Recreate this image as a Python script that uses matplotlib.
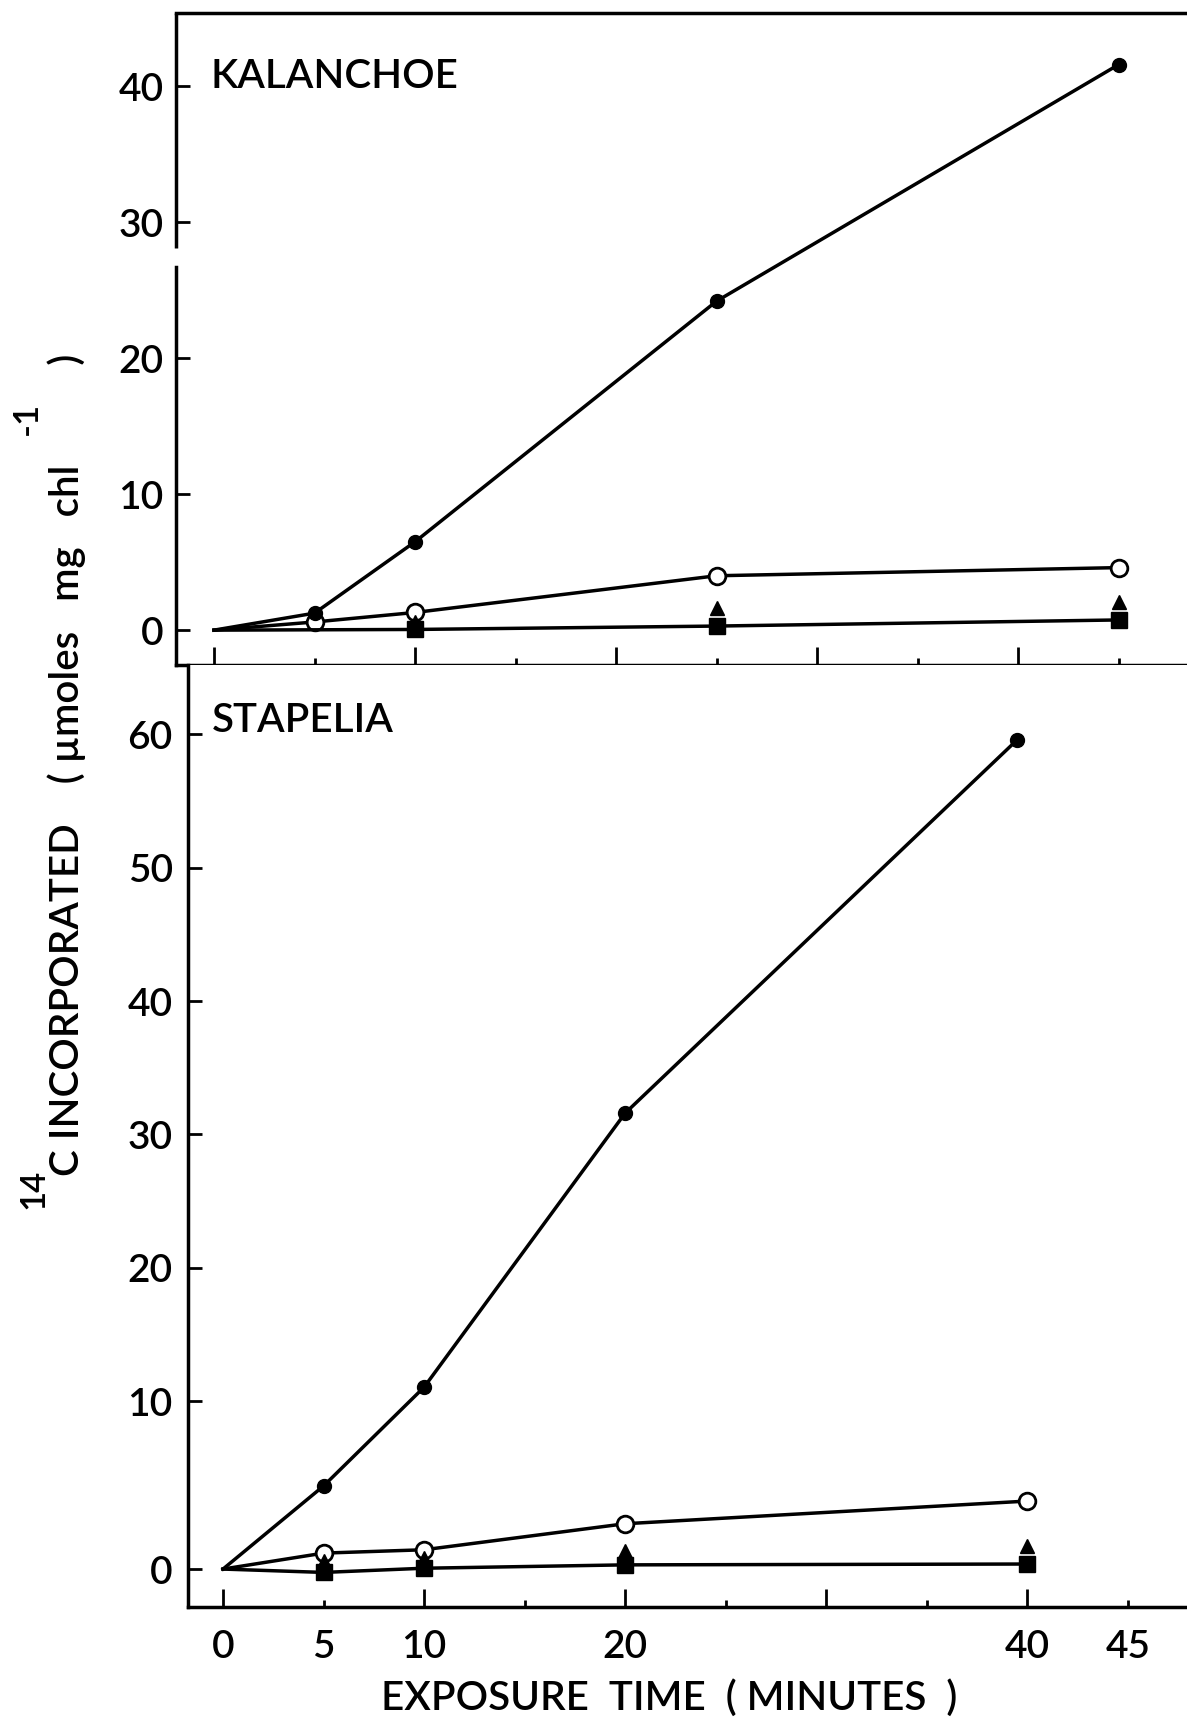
import matplotlib.pyplot as plt
import numpy as np
from matplotlib.ticker import FixedLocator, FixedFormatter, NullFormatter

plt.rcParams['font.family'] = ['Lato', 'DejaVu Sans']
plt.rcParams['font.weight'] = 'semibold'

# KALANCHOE (upper panel)
kal_t = [0, 5, 10, 25, 45]
kal_filled = [0, 1.25, 6.5, 24.2, 41.6]
kal_open = [0, 0.6, 1.3, 4.0, 4.6]
kal_sq_t = [0, 10, 25, 45]
kal_sq = [0, 0.05, 0.3, 0.75]
kal_tri_t = [10, 25, 45]
kal_tri = [0.6, 1.6, 2.05]

# STAPELIA (lower panel)
sta_t = [0, 5, 10, 20, 40]
sta_filled_t = [0, 5, 10, 20, 39.5]
sta_filled = [0, 4.95, 11.05, 31.6, 59.6]
sta_open = [0, 0.95, 1.15, 2.7, 4.05]
sta_sq = [0, -0.2, 0.05, 0.25, 0.3]
sta_tri_t = [5, 10, 20, 40]
sta_tri = [0.5, 0.65, 1.1, 1.4]

x_major = [0, 10, 20, 30, 40]
x_major_lab = ['0', '10', '20', '', '40']
x_minor = [5, 15, 25, 35, 45]
x_minor_lab = ['5', '', '', '', '45']

LW = 2.5
FS = 28

# lower panel y axis is stretched below 10 in the original drawing
K = 1.259


def fwd(y):
    y = np.asarray(y, dtype=float)
    return np.where(y < 10, y * K, y + 10 * (K - 1))


def inv(t):
    t = np.asarray(t, dtype=float)
    return np.where(t < 10 * K, t / K, t - 10 * (K - 1))


def draw_series(ax, t, filled_t, filled, open_, sq_t, sq, tri_t, tri):
    ax.plot(t, open_, color='k', lw=LW, marker='o', ms=12, mfc='white',
            mec='k', mew=2.0, markevery=list(range(1, len(t))), zorder=3)
    ax.plot(sq_t, sq, color='k', lw=LW, marker='s', ms=11,
            markevery=list(range(1, len(sq_t))), zorder=4)
    ax.plot(tri_t, tri, ls='none', marker='^', ms=10, color='k', zorder=5)
    ax.plot(filled_t, filled, color='k', lw=LW, marker='o', ms=10,
            markevery=list(range(1, len(filled_t))), zorder=6)


def style_axes(ax):
    ax.spines['right'].set_visible(False)
    for s in ax.spines.values():
        s.set_linewidth(LW)
    ax.xaxis.set_major_locator(FixedLocator(x_major))
    ax.xaxis.set_minor_locator(FixedLocator(x_minor))
    ax.tick_params(axis='y', direction='in', width=2.0, length=10,
                   labelsize=FS, pad=9, right=False)
    ax.tick_params(axis='x', which='major', direction='in', width=2.0,
                   length=13, labelsize=FS, pad=16, top=False)
    ax.tick_params(axis='x', which='minor', direction='in', width=2.0,
                   length=5, labelsize=FS, pad=16, top=False)


fig = plt.figure(figsize=(11.87, 17.23), dpi=100)

# upper panel
ax1 = fig.add_axes([0.1483, 0.6140, 0.8517, 0.3785])
draw_series(ax1, kal_t, kal_t, kal_filled, kal_open,
            kal_sq_t, kal_sq, kal_tri_t, kal_tri)
ax1.set_xlim(-1.89, 48.4)
ax1.set_ylim(-2.57, 45.4)
style_axes(ax1)
ax1.set_yticks([0, 10, 20, 30, 40])
ax1.xaxis.set_major_formatter(NullFormatter())
ax1.xaxis.set_minor_formatter(NullFormatter())
# broken left spine
ax1.spines['left'].set_bounds(-2.57, 26.7)
ax1.plot([-1.89, -1.89], [28.1, 45.4], color='k', lw=LW,
         solid_capstyle='butt', clip_on=False, zorder=10)
ax1.text(-0.2, 40.7, 'KALANCHOE', fontsize=29, ha='left', va='center')

# lower panel
ax2 = fig.add_axes([0.1584, 0.06732, 0.8416, 0.5467])
ax2.set_yscale('function', functions=(fwd, inv))
draw_series(ax2, sta_t, sta_filled_t, sta_filled, sta_open,
            sta_t, sta_sq, sta_tri_t, sta_tri)
ax2.set_xlim(-1.74, 47.94)
ax2.set_ylim(-2.26, 65.2)
style_axes(ax2)
ax2.spines['top'].set_visible(False)
ax2.yaxis.set_major_locator(FixedLocator([0, 10, 20, 30, 40, 50, 60]))
ax2.yaxis.set_major_formatter(FixedFormatter(['0', '10', '20', '30', '40', '50', '60']))
ax2.yaxis.set_minor_locator(FixedLocator([]))
ax2.tick_params(axis='y', pad=11)
ax2.xaxis.set_major_formatter(FixedFormatter(x_major_lab))
ax2.xaxis.set_minor_formatter(FixedFormatter(x_minor_lab))
ax2.text(-0.55, 61.05, 'STAPELIA', fontsize=29, ha='left', va='center')

fig.text(0.5636, 0.0145, 'EXPOSURE  TIME  ( MINUTES  )', fontsize=29,
         ha='center', va='center')
# y label: the raised 14 and -1 are set apart, as in the original lettering
fig.text(0.056, 0.3175,
         'C INCORPORATED    ( µmoles   mg   chl          )',
         fontsize=29, rotation=90, ha='center', va='bottom')
fig.text(0.028, 0.2983, '14', fontsize=25, rotation=90,
         ha='center', va='bottom')
fig.text(0.023, 0.757, '-1', fontsize=25, rotation=90,
         ha='center', va='center')

fig.savefig('out.png', dpi=100, facecolor='white')
